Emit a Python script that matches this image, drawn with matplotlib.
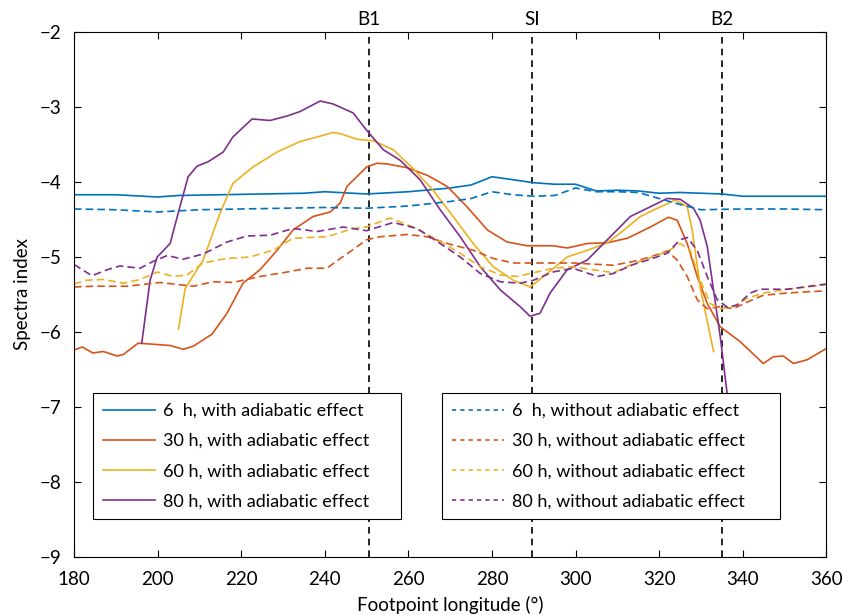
import matplotlib
matplotlib.use("Agg")
import matplotlib.pyplot as plt
from matplotlib.lines import Line2D

plt.rcParams['font.family'] = ['Lato', 'DejaVu Sans']

# MATLAB default colour order
c_6, c_30, c_60, c_80 = '#0072BD', '#D95319', '#EDB120', '#7E2F8E'

# Boundary / interface longitudes
boundary_names = ['B1', 'SI', 'B2']
boundary_lon = [250.5, 289.5, 335.0]

# ---- with adiabatic effect ----
x_6h_with = [180, 190, 200, 205, 215, 225, 235, 240, 250, 260, 270, 275, 280, 285, 290,
             295, 300, 305, 310, 315, 320, 325, 330, 335, 340, 350, 360]
y_6h_with = [-4.17, -4.17, -4.20, -4.18, -4.17, -4.16, -4.15, -4.13, -4.16, -4.13, -4.08,
             -4.04, -3.93, -3.97, -4.01, -4.03, -4.03, -4.12, -4.11, -4.12, -4.15, -4.14,
             -4.15, -4.16, -4.19, -4.19, -4.19]

x_30h_with = [180, 182, 184.5, 187, 190.3, 191.8, 195.3, 198.2, 200.6, 203, 206.1, 208.5, 213,
              216.6, 220.4, 224.5, 228.6, 232.4, 237.2, 241.3, 243.7, 245.3, 250, 252.5, 255,
              259.7, 264.5, 269.3, 274, 278.9, 283.6, 288.4, 294.6, 298, 302.8, 307.6, 312.4,
              317.9, 322.2, 324.3, 326.7, 329.1, 331.5, 334.6, 339.4, 344.9, 347.3, 349.7,
              352.1, 355.4, 360]
y_30h_with = [-6.24, -6.20, -6.28, -6.26, -6.32, -6.30, -6.15, -6.16, -6.17, -6.18, -6.23,
              -6.19, -6.03, -5.75, -5.35, -5.17, -4.91, -4.64, -4.46, -4.40, -4.28, -4.06,
              -3.80, -3.75, -3.76, -3.81, -3.91, -4.06, -4.33, -4.64, -4.80, -4.85, -4.85,
              -4.88, -4.82, -4.81, -4.75, -4.60, -4.47, -4.51, -4.82, -5.26, -5.62, -5.93,
              -6.13, -6.42, -6.33, -6.32, -6.42, -6.37, -6.22]

x_60h_with = [205, 206.6, 210.9, 214.9, 218, 222.8, 228.6, 234.1, 238.2, 242, 244, 247.7,
              251.6, 256.4, 261.1, 265.9, 270.7, 275.5, 280.3, 285.1, 289.1, 293.2, 298,
              302.8, 307.6, 310.7, 315.5, 320.3, 323.9, 326.7, 327.9, 329.8, 333]
y_60h_with = [-5.96, -5.42, -5.04, -4.42, -4.02, -3.80, -3.60, -3.46, -3.40, -3.34, -3.36,
              -3.43, -3.45, -3.57, -3.82, -4.11, -4.46, -4.82, -5.13, -5.31, -5.40, -5.22,
              -5.00, -4.91, -4.81, -4.68, -4.46, -4.33, -4.24, -4.33, -4.64, -5.40, -6.26]

x_80h_with = [196.2, 198.2, 199.9, 203, 204.9, 207.3, 209.4, 212.1, 215.7, 218, 222.6, 226.9,
              231, 234.1, 238.9, 242, 246.8, 250, 254, 258, 262.8, 267.6, 272.4, 277.2, 282,
              286.7, 289.1, 291.5, 293.9, 298, 302.8, 307.6, 313.1, 317.9, 321.9, 325, 328.2,
              329.8, 331.5, 333, 334.6, 336.3]
y_80h_with = [-6.15, -5.31, -5.00, -4.82, -4.42, -3.93, -3.79, -3.73, -3.60, -3.40, -3.16,
              -3.18, -3.12, -3.06, -2.92, -2.96, -3.08, -3.31, -3.57, -3.71, -3.97, -4.37,
              -4.73, -5.13, -5.44, -5.66, -5.79, -5.75, -5.48, -5.17, -5.04, -4.77, -4.46,
              -4.33, -4.22, -4.23, -4.35, -4.51, -4.86, -5.44, -6.06, -6.84]

# ---- without adiabatic effect ----
x_6h_wo = [180, 190, 200, 210, 220, 230, 240, 250, 260, 265, 270, 275, 280, 285, 290, 295,
           300, 305, 310, 315, 320, 325, 330, 340, 350, 360]
y_6h_wo = [-4.36, -4.37, -4.40, -4.37, -4.36, -4.35, -4.34, -4.35, -4.32, -4.29, -4.26,
           -4.22, -4.13, -4.17, -4.19, -4.18, -4.08, -4.13, -4.13, -4.14, -4.22, -4.30,
           -4.37, -4.36, -4.36, -4.37]

x_30h_wo = [180, 184.5, 192.6, 200.6, 208.5, 213.3, 218, 224.5, 231, 235.8, 240.5, 243.7,
            246.8, 250, 253.2, 259.7, 264.5, 269.3, 275.5, 280.3, 285.1, 291.5, 299.4, 309,
            313.8, 317.9, 321.9, 324.3, 326.7, 329.1, 331.5, 334.6, 337.7, 341.1, 344.9,
            350.7, 360]
y_30h_wo = [-5.40, -5.39, -5.39, -5.34, -5.39, -5.33, -5.34, -5.26, -5.20, -5.15, -5.15,
            -5.02, -4.90, -4.77, -4.73, -4.70, -4.73, -4.82, -4.91, -5.02, -5.08, -5.08,
            -5.08, -5.11, -5.06, -5.00, -4.92, -5.04, -5.26, -5.57, -5.69, -5.66, -5.69,
            -5.60, -5.51, -5.48, -5.45]

x_60h_wo = [180, 183, 187, 191.8, 195.8, 199.9, 203.8, 207, 210.9, 216.6, 222.1, 227.6,
            232.4, 240.5, 246.8, 250, 255.6, 261.1, 266.9, 272.4, 277.2, 282, 286, 289.9,
            294.6, 299.4, 304.2, 309, 313.8, 321.9, 325, 327.4, 329.8, 332.2, 334.6, 337.7,
            341.1, 344.9, 350.7, 360]
y_60h_wo = [-5.36, -5.31, -5.30, -5.35, -5.30, -5.20, -5.26, -5.24, -5.08, -5.02, -5.00,
            -4.91, -4.75, -4.73, -4.62, -4.60, -4.48, -4.60, -4.77, -4.95, -5.13, -5.24,
            -5.26, -5.21, -5.15, -5.13, -5.17, -5.21, -5.09, -4.93, -4.82, -4.91, -5.31,
            -5.62, -5.69, -5.66, -5.55, -5.48, -5.43, -5.37]

x_80h_wo = [180, 184.3, 187.9, 191, 195.8, 198.9, 202.3, 206.1, 210.9, 216.6, 221.4, 226.9,
            232.4, 238.2, 244.4, 250, 256.4, 262.1, 267.6, 272.4, 277.2, 282, 286.7, 289.9,
            294.6, 299.4, 305.2, 309, 313.8, 317.9, 321.9, 325, 326.7, 329.1, 331.5, 333.9,
            336.3, 338.7, 341.8, 344.2, 350.7, 360]
y_80h_wo = [-5.10, -5.25, -5.17, -5.12, -5.15, -5.06, -4.98, -5.03, -4.96, -4.80, -4.72,
            -4.71, -4.62, -4.66, -4.60, -4.65, -4.54, -4.62, -4.82, -5.00, -5.22, -5.33,
            -5.35, -5.31, -5.20, -5.15, -5.26, -5.22, -5.10, -5.03, -4.95, -4.77, -4.74,
            -4.91, -5.26, -5.57, -5.67, -5.64, -5.48, -5.43, -5.43, -5.36]

labels_with = ['6  h, with adiabatic effect', '30 h, with adiabatic effect',
               '60 h, with adiabatic effect', '80 h, with adiabatic effect']
labels_wo = ['6  h, without adiabatic effect', '30 h, without adiabatic effect',
             '60 h, without adiabatic effect', '80 h, without adiabatic effect']
colors = [c_6, c_30, c_60, c_80]

fig = plt.figure(figsize=(8.43, 6.15), dpi=100)
ax = fig.add_axes([0.0878, 0.0943, 0.8925, 0.8537])

lw = 1.2
dash = (0, (4.5, 2.5))
with_series = [(x_6h_with, y_6h_with), (x_30h_with, y_30h_with),
               (x_60h_with, y_60h_with), (x_80h_with, y_80h_with)]
wo_series = [(x_6h_wo, y_6h_wo), (x_30h_wo, y_30h_wo),
             (x_60h_wo, y_60h_wo), (x_80h_wo, y_80h_wo)]

h_with, h_wo = [], []
for (xs, ys), c, lab in zip(with_series, colors, labels_with):
    h_with.append(ax.plot(xs, ys, color=c, lw=lw, label=lab)[0])
for (xs, ys), c, lab in zip(wo_series, colors, labels_wo):
    h_wo.append(ax.plot(xs, ys, color=c, lw=lw, ls=dash, label=lab)[0])

for name, lon in zip(boundary_names, boundary_lon):
    ax.axvline(lon, color='black', lw=1.2, ls=(0, (4, 3)), zorder=1)
    ax.text(lon, 1.008, name, transform=ax.get_xaxis_transform(),
            ha='center', va='bottom', fontsize=13.5)

ax.set_xlim(180, 360)
ax.set_ylim(-9, -2)
ax.set_xticks(range(180, 361, 20))
ax.set_yticks(range(-9, -1))
ax.set_yticklabels(['\u2212%d' % abs(v) for v in range(-9, -1)])
ax.tick_params(direction='in', top=True, right=True, length=5, width=0.8,
               labelsize=13.5)
ax.tick_params(axis='y', pad=9)
ax.tick_params(axis='x', pad=10)
for sp in ax.spines.values():
    sp.set_linewidth(0.8)

ax.set_xlabel('Footpoint longitude (°)', fontsize=13.5, labelpad=6)
ax.set_ylabel('Spectra index', fontsize=13.5, labelpad=6)

leg_kw = dict(fontsize=13, frameon=True, fancybox=False, edgecolor='black',
              framealpha=1, loc='lower left', borderaxespad=0, labelspacing=0.78,
              handletextpad=0.45, borderpad=0.55, handlelength=2.9, mode='expand')
leg1 = ax.legend(handles=h_with, bbox_to_anchor=(0.025, 0.072, 0.409, 0.2), **leg_kw)
leg1.get_frame().set_linewidth(0.8)
ax.add_artist(leg1)

wo_handles = [Line2D([], [], color=c, lw=lw, ls=(0, (2.5, 2.5))) for c in colors]
leg2 = ax.legend(wo_handles, labels_wo, bbox_to_anchor=(0.489, 0.072, 0.45, 0.2), **leg_kw)
leg2.get_frame().set_linewidth(0.8)

fig.savefig('out.png', dpi=100)
